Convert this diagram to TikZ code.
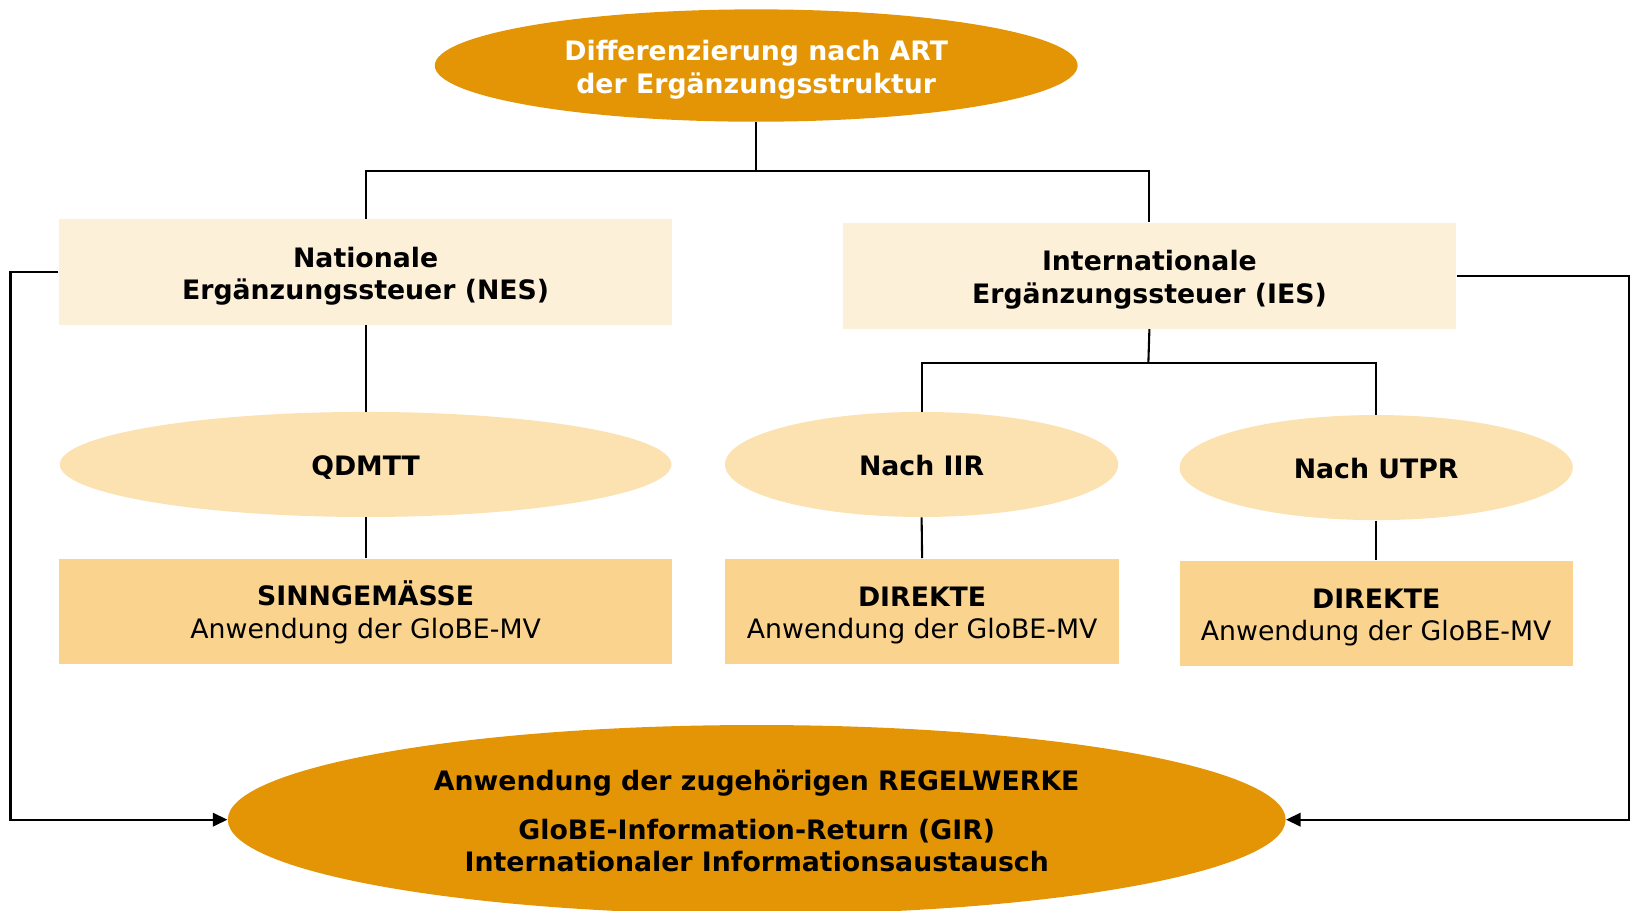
\documentclass[tikz,border=0pt]{standalone}
\usepackage{fontspec}
\setmainfont{DejaVu Sans}
\usetikzlibrary{shapes.geometric,arrows.meta}
\definecolor{darkorange}{HTML}{E39506}
\definecolor{palebox}{HTML}{FDF0D8}
\definecolor{midell}{HTML}{FCE1B1}
\definecolor{stepfill}{HTML}{FAD48E}
\tikzset{
  every node/.style={font=\fontsize{12.85}{15.5}\selectfont, align=center, inner sep=0pt},
  bold/.style={font=\fontsize{12.85}{15.5}\selectfont\bfseries},
  bigell/.style={ellipse, fill=darkorange},
  levelbox/.style={rectangle, fill=palebox},
  ruleell/.style={ellipse, fill=midell},
  appbox/.style={rectangle, fill=stepfill},
  link/.style={draw=black, line width=1pt},
  feedback/.style={link, -{Triangle[length=7pt,width=6.5pt]}},
}
\begin{document}
\begin{tikzpicture}[x={(0.5pt,0)}, y={(0,-0.5pt)}]
\useasboundingbox (0,0) rectangle (1568,875);

% shapes
\node[bigell, minimum width=309pt, minimum height=54pt] (top) at (727,63) {};
\node[levelbox, minimum width=295pt, minimum height=50.5pt] (nes) at (351.5,261.5) {};
\node[levelbox, minimum width=295pt, minimum height=51pt] (ies) at (1105,265) {};
\node[ruleell, minimum width=294pt, minimum height=50.5pt] (qdmtt) at (351.5,446.5) {};
\node[ruleell, minimum width=189pt, minimum height=50.5pt] (iir) at (886,446.5) {};
\node[ruleell, minimum width=189pt, minimum height=50.5pt] (utpr) at (1323,449.5) {};
\node[appbox, minimum width=294.5pt, minimum height=50.5pt] (sinn) at (351.5,587.5) {};
\node[appbox, minimum width=189.5pt, minimum height=50.5pt] (dir1) at (886.5,587.5) {};
\node[appbox, minimum width=189pt, minimum height=50.5pt] (dir2) at (1323,589.5) {};
\node[bigell, minimum width=508.5pt, minimum height=91pt] (rules) at (727.5,788) {};

% labels
\node[bold, text=white] (top-t) at ([yshift=-2pt]top.center)
  {Differenzierung nach ART\\der Ergänzungsstruktur};
\node[bold] (nes-t) at ([yshift=-2pt]nes.center) {Nationale\\Ergänzungssteuer (NES)};
\node[bold] (ies-t) at ([yshift=-2pt]ies.center) {Internationale\\Ergänzungssteuer (IES)};
\node[bold] (qdmtt-t) at ([yshift=-1.5pt]qdmtt.center) {QDMTT};
\node[bold] (iir-t) at ([yshift=-0.6pt]iir.center) {Nach IIR};
\node[bold] (utpr-t) at ([yshift=-0.6pt]utpr.center) {Nach UTPR};
\node (sinn-t) at ([yshift=-0.6pt]sinn.center) {\textbf{SINNGEMÄSSE}\\Anwendung der GloBE-MV};
\node (dir1-t) at ([yshift=-2pt]dir1.center) {\textbf{DIREKTE}\\Anwendung der GloBE-MV};
\node (dir2-t) at ([yshift=-2pt]dir2.center) {\textbf{DIREKTE}\\Anwendung der GloBE-MV};
\node[bold] (rules-t) at ([yshift=-0.5pt]rules.center)
  {Anwendung der zugehörigen REGELWERKE\\[8pt]GloBE-Information-Return (GIR)\\Internationaler Informationsaustausch};

% tree connectors
\coordinate (j1) at (727,164);
\coordinate (j2) at (1104,349);
\draw[link] (top.south) -- (j1);
\draw[link] (nes.north) |- (j1) -| (ies.north);
\draw[link] (ies.south) -- (j2);
\draw[link] (iir.north) |- (j2) -| (utpr.north);
\draw[link] (nes.south) -- (qdmtt.north);
\draw[link] (qdmtt.south) -- (sinn.north);
\draw[link] (iir.south) -- (dir1.north);
\draw[link] (utpr.south) -- (dir2.north);

% feedback to the rule sets
\draw[feedback] (nes.west) -- ++(-46,0) |- (rules.west);
\draw[feedback] (ies.east) -- ++(166,0) |- (rules.east);
\end{tikzpicture}
\end{document}
